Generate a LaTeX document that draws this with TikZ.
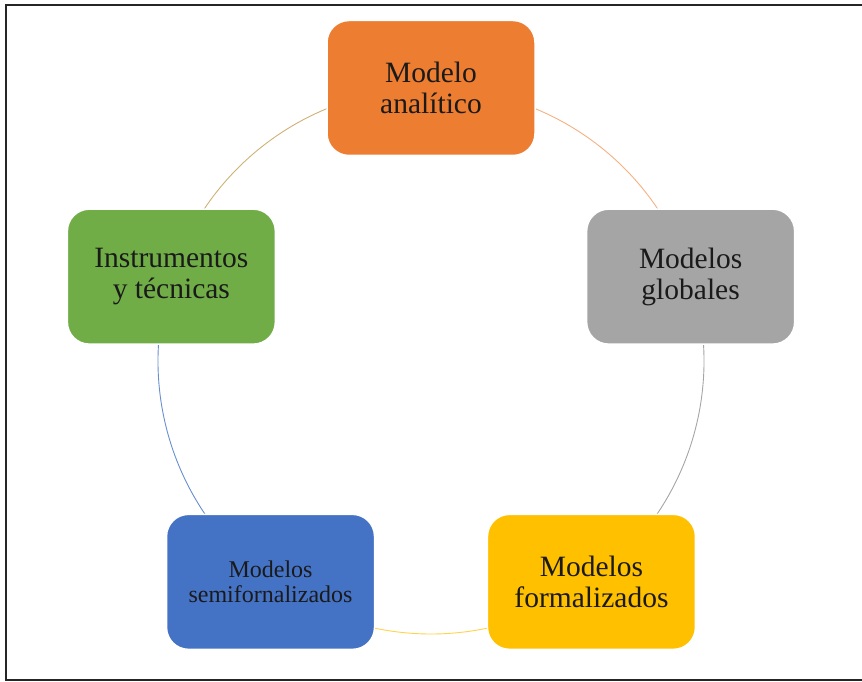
\documentclass[tikz,border=0pt]{standalone}
\usepackage{fontspec}
\setmainfont{Liberation Serif}
\usetikzlibrary{calc}
\definecolor{cOrange}{HTML}{ED7D31}
\definecolor{cGray}{HTML}{A5A5A5}
\definecolor{cYellow}{HTML}{FFC000}
\definecolor{cBlue}{HTML}{4472C4}
\definecolor{cGreen}{HTML}{70AD47}
\definecolor{cText}{HTML}{1A1A1A}
\tikzset{
  box/.style={rectangle, rounded corners=22pt, minimum width=208pt, minimum height=135pt,
    draw=white, line width=1.5pt, align=center, text=cText,
    font=\fontsize{29.5}{31}\selectfont, inner sep=0pt},
  smallbox/.style={box, font=\fontsize{24}{25}\selectfont},
  ring/.style={line width=0.9pt},
  frame/.style={line width=2pt, draw=black!85}
}
\begin{document}
\begin{tikzpicture}[x=1pt,y=1pt]
\useasboundingbox (0,0) rectangle (862,681);
\draw[frame] (870,1) -- (5.5,1) -- (5.5,675.5) -- (870,675.5);
\coordinate (c) at (431,320);
\coordinate (p1) at ($(c)+(90:273)$);
\coordinate (p2) at ($(c)+(18:273)$);
\coordinate (p3) at ($(c)+(-54:273)$);
\coordinate (p4) at ($(c)+(-126:273)$);
\coordinate (p5) at ($(c)+(162:273)$);
\draw[ring, cOrange!60] (p1) arc[start angle=90, end angle=18, radius=273pt];
\draw[ring, cGray] (p2) arc[start angle=18, end angle=-54, radius=273pt];
\draw[ring, cYellow!70] (p3) arc[start angle=-54, end angle=-126, radius=273pt];
\draw[ring, cBlue!80] (p4) arc[start angle=-126, end angle=-198, radius=273pt];
\draw[ring, cGreen!40!cOrange!70] (p5) arc[start angle=162, end angle=90, radius=273pt];
\node[box, fill=cOrange] (n1) at (p1) {Modelo\\analítico};
\node[box, fill=cGray] (n2) at (p2) {Modelos\\globales};
\node[box, fill=cYellow] (n3) at (p3) {Modelos\\formalizados};
\node[smallbox, fill=cBlue] (n4) at (p4) {Modelos\\semifornalizados};
\node[box, fill=cGreen] (n5) at (p5) {Instrumentos\\y técnicas};
\end{tikzpicture}
\end{document}
